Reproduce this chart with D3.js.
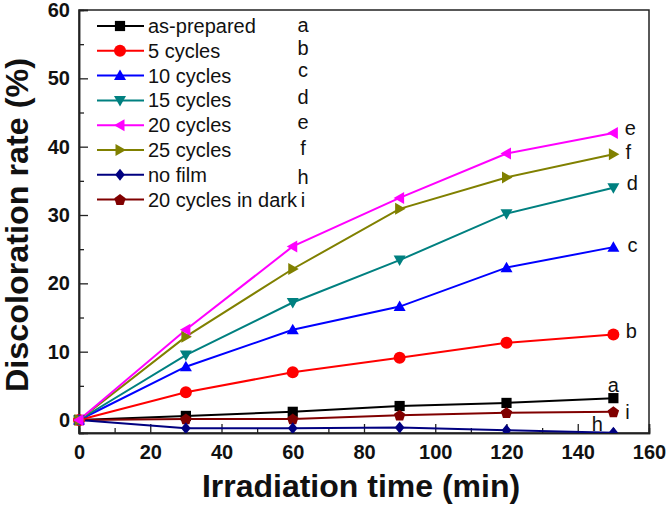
<!DOCTYPE html>
<html><head><meta charset="utf-8">
<script src="https://cdn.jsdelivr.net/npm/d3@7"></script>
<style>body{margin:0;background:#fff}svg{display:block}</style>
</head><body>
<script>
const times = [0, 30, 60, 90, 120, 150];
const seriesNames = ["as-prepared","5 cycles","10 cycles","15 cycles","20 cycles","25 cycles","no film","20 cycles in dark"];
const seriesLetters = ["a","b","c","d","e","f","h","i"];
const seriesColors = ["#000000","#ff0000","#0000ff","#008080","#ff00ff","#808000","#000080","#800000"];
const seriesSymbols = ["square","circle","triUp","triDown","triLeft","triRight","diamond","pentagon"];
const valsA = [0, 0.6, 1.2, 2.05, 2.5, 3.2];
const valsB = [0, 4.05, 7.0, 9.1, 11.3, 12.5];
const valsC = [0, 7.8, 13.2, 16.6, 22.3, 25.3];
const valsD = [0, 9.5, 17.2, 23.4, 30.2, 34.0];
const valsE = [0, 13.2, 25.4, 32.5, 39.0, 42.0];
const valsF = [0, 12.2, 22.1, 30.9, 35.5, 38.9];
const valsH = [0, -1.2, -1.2, -1.1, -1.5, -1.85];
const valsI = [0, 0.15, 0.15, 0.7, 1.07, 1.2];
const seriesValues = [valsA, valsB, valsC, valsD, valsE, valsF, valsH, valsI];
const xTicks = [0,20,40,60,80,100,120,140,160];
const yTicks = [0,10,20,30,40,50,60];

const W = 666, H = 507;
const m = {left:79, right:17, top:10, bottom:74};
const svg = d3.select("body").append("svg").attr("width",W).attr("height",H);
const x = d3.scaleLinear().domain([0,160]).range([m.left, W-m.right]);
const y = d3.scaleLinear().domain([-1.9,60]).range([H-m.bottom, m.top]);

const FONT = "'Liberation Sans', Arial, sans-serif";

svg.append("defs").append("clipPath").attr("id","clip").append("rect")
  .attr("x",x(0)-8).attr("y",y(60)).attr("width",x(160)-x(0)+8).attr("height",y(-1.9)-y(60));

// frame
svg.append("rect").attr("x",x(0)).attr("y",y(60)).attr("width",x(160)-x(0)).attr("height",y(-1.9)-y(60))
  .attr("fill","none").attr("stroke","#222").attr("stroke-width",1.5);

// x axis
const xMinor = d3.range(10,160,20);
const gx = svg.append("g").attr("transform",`translate(0,${y(-1.9)})`);
gx.call(d3.axisBottom(x).tickValues(xTicks).tickSize(-9).tickPadding(12).tickFormat(d3.format("d")));
gx.append("g").call(d3.axisBottom(x).tickValues(xMinor).tickSize(-5).tickFormat(""));
gx.selectAll(".domain").attr("stroke","#222").attr("stroke-width",1.5);
gx.selectAll(".tick line").attr("stroke","#222").attr("stroke-width",1.3);
gx.selectAll("text").attr("font-family",FONT).attr("font-weight","bold").attr("font-size",20).attr("fill","#111");

// y axis
const yMinor = d3.range(5,60,10);
const gy = svg.append("g").attr("transform",`translate(${x(0)},0)`);
gy.call(d3.axisLeft(y).tickValues(yTicks).tickSize(-9).tickPadding(9).tickFormat(d3.format("d")));
gy.append("g").call(d3.axisLeft(y).tickValues(yMinor).tickSize(-5).tickFormat(""));
gy.selectAll(".domain").attr("stroke","#222").attr("stroke-width",1.5);
gy.selectAll(".tick line").attr("stroke","#222").attr("stroke-width",1.3);
gy.selectAll("text").attr("font-family",FONT).attr("font-weight","bold").attr("font-size",20).attr("fill","#111");

// axis titles
svg.append("text").attr("x",(x(0)+x(160))/2-3).attr("y",497).attr("text-anchor","middle")
  .attr("font-family",FONT).attr("font-weight","bold").attr("font-size",32).attr("fill","#111")
  .text("Irradiation time (min)");
svg.append("text").attr("transform",`translate(28,${225}) rotate(-90)`).attr("text-anchor","middle")
  .attr("font-family",FONT).attr("font-weight","bold").attr("font-size",31).attr("fill","#111")
  .attr("textLength",334).attr("lengthAdjust","spacingAndGlyphs")
  .text("Discoloration rate (%)");

function markerPath(type, s){
  const r = s/2;
  switch(type){
    case "square": return `M${-r*0.85},${-r*0.85}h${1.7*r}v${1.7*r}h${-1.7*r}Z`;
    case "circle": return d3.symbol(d3.symbolCircle, Math.PI*r*r)();
    case "triUp": return `M0,${-r}L${r},${r*0.75}L${-r},${r*0.75}Z`;
    case "triDown": return `M0,${r}L${r},${-r*0.75}L${-r},${-r*0.75}Z`;
    case "triLeft": return `M${-r},0L${r*0.75},${-r}L${r*0.75},${r}Z`;
    case "triRight": return `M${r},0L${-r*0.75},${-r}L${-r*0.75},${r}Z`;
    case "diamond": return `M0,${-r}L${r*0.8},0L0,${r}L${-r*0.8},0Z`;
    case "pentagon": {
      const pts = d3.range(5).map(i=>{const a=-Math.PI/2+i*2*Math.PI/5; return [r*Math.cos(a), r*Math.sin(a)+0.5];});
      return "M"+pts.map(p=>p.join(",")).join("L")+"Z";
    }
  }
}

const line = d3.line().x((d,i)=>x(times[i])).y(d=>y(d));
const plot = svg.append("g").attr("clip-path","url(#clip)");
const order = [0,7,6,1,2,3,5,4];
order.forEach(k=>{
  plot.append("path").attr("d",line(seriesValues[k])).attr("fill","none")
    .attr("stroke",seriesColors[k]).attr("stroke-width",2);
});
order.forEach(k=>{
  plot.selectAll(null).data(seriesValues[k]).enter().append("path")
    .attr("transform",(d,i)=>`translate(${x(times[i])},${y(d)})`)
    .attr("d",markerPath(seriesSymbols[k], 12)).attr("fill",seriesColors[k]);
});

// end letters
const endOffsets = {a:[0,-13], b:[18,-4], c:[19,-2], d:[19,-5], e:[17,-5], f:[15,-2], h:[-16,-9], i:[14,0]};
seriesLetters.forEach((L,k)=>{
  const v = seriesValues[k][5];
  const o = endOffsets[L];
  svg.append("text").attr("x",x(150)+o[0]).attr("y",y(v)+o[1]).attr("dy","0.35em")
    .attr("text-anchor","middle").attr("font-family",FONT).attr("font-size",20).attr("fill","#111").text(L);
});

// legend
const lg = svg.append("g");
const letterY = [25,48,70,97,122,148,177,200];
seriesNames.forEach((n,k)=>{
  const yy = 26 + k*24.8;
  lg.append("line").attr("x1",97).attr("x2",144).attr("y1",yy).attr("y2",yy).attr("stroke",seriesColors[k]).attr("stroke-width",2);
  lg.append("path").attr("transform",`translate(120,${yy})`).attr("d",markerPath(seriesSymbols[k],12)).attr("fill",seriesColors[k]);
  lg.append("text").attr("x",148).attr("y",yy).attr("dy","0.35em").attr("font-family",FONT).attr("font-size",20).attr("fill","#111").text(n);
  lg.append("text").attr("x",303).attr("y",letterY[k]).attr("dy","0.35em").attr("text-anchor","middle").attr("font-family",FONT).attr("font-size",20).attr("fill","#111").text(seriesLetters[k]);
});
</script>
</body></html>
